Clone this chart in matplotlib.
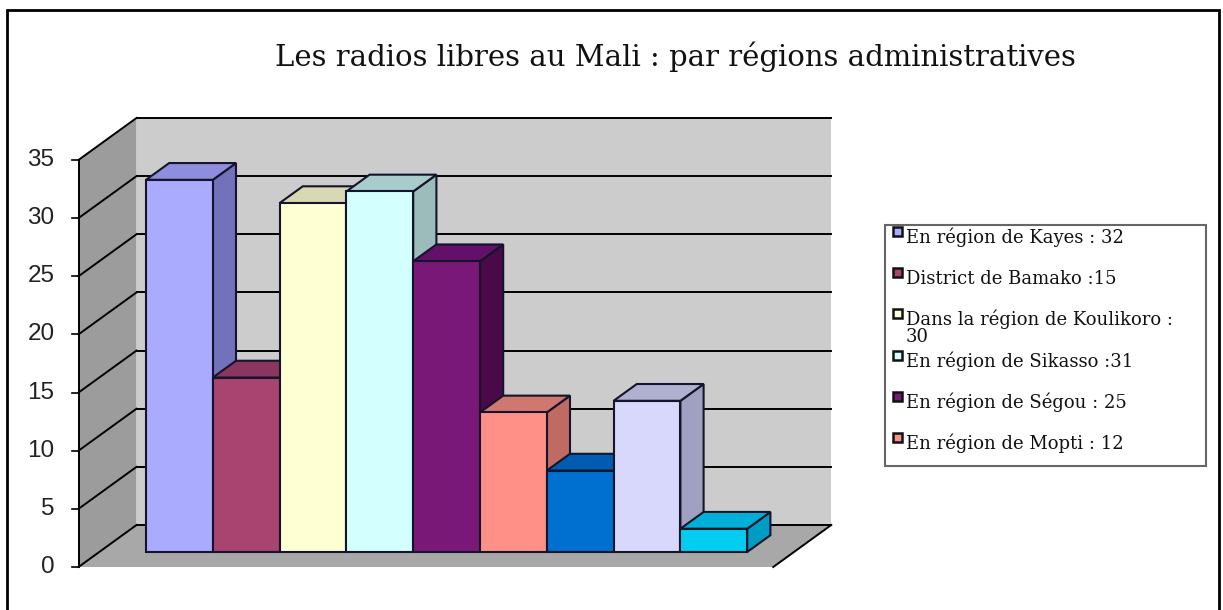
import matplotlib
matplotlib.use("Agg")
import matplotlib.pyplot as plt
from matplotlib.patches import Polygon, Rectangle

# Données
titre = "Les radios libres au Mali : par régions administratives"
valeurs = [32, 15, 30, 31, 25, 12, 7, 13, 2]
legendes = ["En région de Kayes : 32", "District de Bamako :15",
            "Dans la région de Koulikoro :\n30", "En région de Sikasso :31",
            "En région de Ségou : 25", "En région de Mopti : 12"]
faces = ["#aaaaff", "#a8446f", "#ffffd4", "#d4ffff", "#7a1878", "#ff9088",
         "#0070d0", "#d8d8fc", "#00cdf0"]
cotes = ["#7272bc", "#7c2e52", "#c4c4a2", "#9cbcbc", "#4a0a4a", "#c06a64",
         "#0050a0", "#a0a0c0", "#009cc4"]
dessus = ["#8e8edc", "#8a3660", "#d8d8b4", "#a8cccc", "#62106a", "#d07870",
          "#005cb0", "#b0b0d0", "#00b0d8"]
graduations = [0, 5, 10, 15, 20, 25, 30, 35]

W, H = 1223, 610
fig = plt.figure(figsize=(W / 100, H / 100), dpi=100)
ax = fig.add_axes([0, 0, 1, 1])
ax.axis("off")

# échelle : 1 barre = 66.8 px, 1 unité = 11.63 px
pxb, x0 = 66.8, 146
pxu, y0 = 11.63, 552
ax.set_xlim(-x0 / pxb, (W - x0) / pxb)
ax.set_ylim((y0 - H) / pxu, y0 / pxu)

# profondeur du cadre 3D
DX, DY = 58 / pxb, 42 / pxu
av = 0.357   # fraction de profondeur devant les barres
ep = 0.4     # épaisseur des barres
gauche, droite = -0.7, len(valeurs) + 0.7
ymax = 35

fx, fy = -av * DX, -av * DY          # plan avant
bx, by = (1 - av) * DX, (1 - av) * DY  # plan arrière

# mur gauche, mur du fond, sol
ax.add_patch(Polygon([(gauche + fx, fy), (gauche + fx, ymax + fy),
                      (gauche + bx, ymax + by), (gauche + bx, by)],
                     closed=True, fc="#9c9c9c", ec="none", zorder=1))
ax.add_patch(Polygon([(gauche + bx, by), (gauche + bx, ymax + by),
                      (droite + bx, ymax + by), (droite + bx, by)],
                     closed=True, fc="#cccccc", ec="none", zorder=1))
ax.add_patch(Polygon([(gauche + fx, fy), (droite + fx, fy),
                      (droite + bx, by), (gauche + bx, by)],
                     closed=True, fc="#a8a8a8", ec="none", zorder=1))

# lignes de quadrillage
for g in graduations:
    ax.plot([gauche + fx, gauche + bx], [g + fy, g + by], color="black", lw=1.4, zorder=2)
    ax.plot([gauche + bx, droite + bx], [g + by, g + by], color="black", lw=1.4, zorder=2)
    ax.plot([gauche + fx - 0.1, gauche + fx], [g + fy, g + fy], color="black", lw=1.2, zorder=2)
    ax.text(gauche + fx - 0.36, g + fy, str(g), ha="right", va="center",
            fontsize=17.5, family="Liberation Sans", color="#222222")
ax.plot([gauche + fx, gauche + fx], [fy, ymax + fy], color="black", lw=1.4, zorder=2)
ax.plot([droite + fx, droite + bx], [fy, by], color="black", lw=1.4, zorder=2)

# barres
dx, dy = ep * DX, ep * DY
for i, v in enumerate(valeurs):
    z = 10 + 3 * i
    ax.bar(i, v, width=1, align="edge", color=faces[i], edgecolor="#14142a",
           linewidth=1.5, zorder=z + 2)
    ax.add_patch(Polygon([(i + 1, 0), (i + 1, v), (i + 1 + dx, v + dy), (i + 1 + dx, dy)],
                         closed=True, fc=cotes[i], ec="#14142a", lw=1.5, zorder=z))
    ax.add_patch(Polygon([(i, v), (i + 1, v), (i + 1 + dx, v + dy), (i + dx, v + dy)],
                         closed=True, fc=dessus[i], ec="#14142a", lw=1.5, zorder=z + 1))

# titre
fig.text(675 / W, 1 - 66 / H, titre, ha="center", va="baseline",
         fontsize=21, family="DejaVu Serif", color="#111111")

# légende
fig.patches.append(Rectangle((885 / W, 1 - 466 / H), 321 / W, 241 / H,
                             transform=fig.transFigure, fc="white", ec="#666666", lw=1.5))
for k, lab in enumerate(legendes):
    yb = 243 + 41.2 * k
    fig.patches.append(Rectangle((893 / W, 1 - (yb - 7) / H), 9 / W, 9 / H,
                                 transform=fig.transFigure, fc=faces[k], ec="#111111", lw=1.8))
    lignes = lab.split("\n")
    fig.text(906 / W, 1 - yb / H, lignes[0], ha="left", va="baseline", fontsize=13,
             family="DejaVu Serif", color="#111111")
    for j, suite in enumerate(lignes[1:]):
        fig.text(906 / W, 1 - (yb + 17 * (j + 1)) / H, suite, ha="left", va="baseline",
                 fontsize=13, family="DejaVu Serif", color="#111111")

# cadre extérieur (ouvert en bas)
fig.patches.append(Rectangle((7 / W, -5 / H), 1212 / W, 605 / H,
                             transform=fig.transFigure, fc="none", ec="black", lw=2))

fig.savefig("out.png", dpi=100, facecolor="white")
